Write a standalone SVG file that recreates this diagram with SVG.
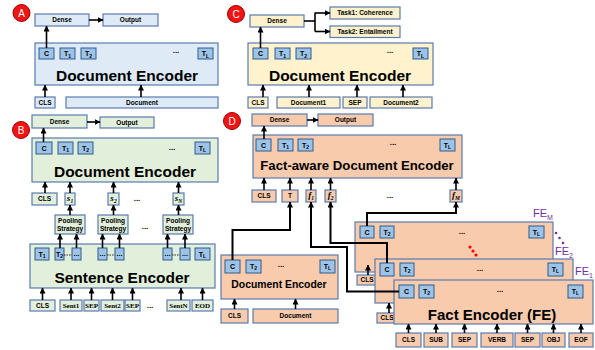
<svg xmlns="http://www.w3.org/2000/svg" width="595" height="350" viewBox="0 0 595 350">
<defs>
<marker id="ah" markerWidth="6" markerHeight="6" refX="5.5" refY="3" orient="auto" markerUnits="userSpaceOnUse"><path d="M0,0 L6,3 L0,6 z" fill="#000"/></marker>
<style>
.bx{stroke:#5a7bb0;stroke-width:1.2}
.blue{fill:#deebf7}.green{fill:#e2efda}.yel{fill:#fff2cc}.org{fill:#f8cbad}
.tok{fill:#9dc3e6;stroke:#2e5d8e;stroke-width:1}
text{font-family:"Liberation Sans",Arial,sans-serif;fill:#000}
.l{font-size:6.5px;font-weight:bold;text-anchor:middle}
.t{font-size:7px;font-weight:bold;text-anchor:middle}
.sub{font-size:5px}
.ser{font-family:"Liberation Serif","Times New Roman",serif;font-size:7px;font-weight:bold;text-anchor:middle}
.it{font-family:"Liberation Serif","Times New Roman",serif;font-style:italic;font-weight:bold;font-size:9px;text-anchor:middle}
.its{font-size:5.5px}
.big{font-weight:bold;text-anchor:middle}
.dots{font-size:8px;font-weight:bold;text-anchor:middle}
.circ{fill:#f01414;stroke:#a00000;stroke-width:1}
.cl{font-size:10px;fill:#fff;text-anchor:middle}
.fe{font-size:11px;fill:#7030a0}
.fes{font-size:7px;fill:#7030a0}
.c line,.c path{stroke:#000;fill:none;stroke-width:1.6}
.c .thick{stroke-width:2}
</style>
</defs>

<!-- Panel A -->
<g id="labelA"><circle class="circ" cx="21.5" cy="13" r="8.5"/><text class="cl" x="21.5" y="16.5">A</text></g>
<g id="A_dense"><rect class="bx blue" x="35" y="14" width="54" height="12"/><text class="l" x="62" y="22.3">Dense</text></g>
<g id="A_output"><rect class="bx blue" x="103" y="14" width="55" height="12"/><text class="l" x="130.5" y="22.3">Output</text></g>
<g id="A_encoder">
<rect class="bx blue" x="35" y="43" width="183" height="42"/>
<rect class="tok" x="39" y="48" width="15" height="11"/><text class="t" x="46.5" y="56">C</text>
<rect class="tok" x="60" y="48" width="15" height="11"/><text class="t" x="67.5" y="56">T<tspan class="sub" dy="1.5">1</tspan></text>
<rect class="tok" x="81" y="48" width="15" height="11"/><text class="t" x="88.5" y="56">T<tspan class="sub" dy="1.5">2</tspan></text>
<text class="dots" x="176" y="53">...</text>
<rect class="tok" x="198" y="48" width="15" height="11"/><text class="t" x="205.5" y="56">T<tspan class="sub" dy="1.5">L</tspan></text>
<text class="big" x="127" y="81" font-size="15.5">Document Encoder</text>
</g>
<g id="A_cls"><rect class="bx blue" x="35" y="97" width="20" height="11"/><text class="l" x="45" y="104.8">CLS</text></g>
<g id="A_doc"><rect class="bx blue" x="66" y="97" width="152" height="11"/><text class="l" x="142" y="104.8">Document</text></g>

<!-- Panel C -->
<g id="labelC"><circle class="circ" cx="236" cy="14" r="8.5"/><text class="cl" x="236" y="17.5">C</text></g>
<g id="C_dense"><rect class="bx yel" x="250" y="15" width="54" height="12"/><text class="l" x="277" y="23.3">Dense</text></g>
<g id="C_task1"><rect class="bx yel" x="330" y="7" width="70" height="12"/><text class="l" x="365" y="15.3">Task1: Coherence</text></g>
<g id="C_task2"><rect class="bx yel" x="330" y="26" width="70" height="11.5"/><text class="l" x="365" y="34">Task2: Entailment</text></g>
<g id="C_encoder">
<rect class="bx yel" x="248" y="43" width="185" height="42"/>
<rect class="tok" x="253" y="48" width="15" height="11"/><text class="t" x="260.5" y="56">C</text>
<rect class="tok" x="275" y="48" width="15" height="11"/><text class="t" x="282.5" y="56">T<tspan class="sub" dy="1.5">1</tspan></text>
<rect class="tok" x="296" y="48" width="15" height="11"/><text class="t" x="303.5" y="56">T<tspan class="sub" dy="1.5">2</tspan></text>
<text class="dots" x="390" y="53">...</text>
<rect class="tok" x="413" y="48" width="15" height="11"/><text class="t" x="420.5" y="56">T<tspan class="sub" dy="1.5">L</tspan></text>
<text class="big" x="340" y="81" font-size="15.5">Document Encoder</text>
</g>
<g id="C_cls"><rect class="bx yel" x="248" y="97" width="20" height="11"/><text class="l" x="258" y="104.8">CLS</text></g>
<g id="C_doc1"><rect class="bx yel" x="277" y="97" width="63" height="11"/><text class="l" x="308.5" y="104.8">Document1</text></g>
<g id="C_sep"><rect class="bx yel" x="343" y="97" width="24" height="11"/><text class="l" x="355" y="104.8">SEP</text></g>
<g id="C_doc2"><rect class="bx yel" x="370" y="97" width="62" height="11"/><text class="l" x="401" y="104.8">Document2</text></g>

<!-- Panel B -->
<g id="labelB"><circle class="circ" cx="21" cy="130" r="8.5"/><text class="cl" x="21" y="133.5">B</text></g>
<g id="B_dense"><rect class="bx green" x="32" y="115" width="55" height="13"/><text class="l" x="59.5" y="123.5">Dense</text></g>
<g id="B_output"><rect class="bx green" x="100" y="117" width="54" height="11"/><text class="l" x="127" y="125">Output</text></g>
<g id="B_encoder">
<rect class="bx green" x="32" y="138" width="186" height="44"/>
<rect class="tok" x="36" y="142" width="16" height="12"/><text class="t" x="44" y="150.5">C</text>
<rect class="tok" x="58" y="142" width="15" height="12"/><text class="t" x="65.5" y="150.5">T<tspan class="sub" dy="1.5">1</tspan></text>
<rect class="tok" x="78" y="142" width="15" height="12"/><text class="t" x="85.5" y="150.5">T<tspan class="sub" dy="1.5">2</tspan></text>
<text class="dots" x="172" y="150">...</text>
<rect class="tok" x="195" y="142" width="15" height="12"/><text class="t" x="202.5" y="150.5">T<tspan class="sub" dy="1.5">L</tspan></text>
<text class="big" x="125" y="177" font-size="15.5">Document Encoder</text>
</g>
<g id="B_cls"><rect class="bx green" x="32" y="193" width="25" height="12"/><text class="l" x="44.5" y="201.3">CLS</text></g>
<g id="B_s1"><rect class="bx green" x="65" y="193" width="10" height="12"/><text class="it" x="70" y="201">s<tspan class="its" dy="1.5">1</tspan></text></g>
<g id="B_s2"><rect class="bx green" x="108" y="193" width="11" height="12"/><text class="it" x="113.5" y="201">s<tspan class="its" dy="1.5">2</tspan></text></g>
<text class="dots" x="137" y="201">...</text>
<g id="B_sN"><rect class="bx green" x="173" y="193" width="11" height="12"/><text class="it" x="178.5" y="201">s<tspan class="its" dy="1.5">N</tspan></text></g>
<g id="B_pool1"><rect class="bx green" x="55" y="215" width="30" height="19"/><text class="l" x="70" y="223">Pooling</text><text class="l" x="70" y="231">Strategy</text></g>
<g id="B_pool2"><rect class="bx green" x="98" y="215" width="30" height="19"/><text class="l" x="113" y="223">Pooling</text><text class="l" x="113" y="231">Strategy</text></g>
<text class="dots" x="145" y="229">...</text>
<g id="B_poolN"><rect class="bx green" x="163" y="215" width="30" height="19"/><text class="l" x="178" y="223">Pooling</text><text class="l" x="178" y="231">Strategy</text></g>
<g id="B_sentenc">
<rect class="bx green" x="30" y="244" width="185" height="44"/>
<rect class="tok" x="35" y="248" width="14" height="12"/><text class="t" x="42" y="256.5">T<tspan class="sub" dy="1.5">1</tspan></text>
<rect class="tok" x="55" y="248" width="9" height="12"/><text class="t" x="59.5" y="256.5">T<tspan class="sub" dy="1.5">2</tspan></text>
<line x1="64" y1="255" x2="72" y2="255" stroke="#000" stroke-width="0.8" stroke-dasharray="1.5,1"/>
<rect class="tok" x="72" y="248" width="9" height="12"/><text class="t" x="76.5" y="256">...</text>
<rect class="tok" x="98" y="248" width="9" height="12"/><text class="t" x="102.5" y="256">...</text>
<line x1="107" y1="255" x2="115" y2="255" stroke="#000" stroke-width="0.8" stroke-dasharray="1.5,1"/>
<rect class="tok" x="115" y="248" width="9" height="12"/><text class="t" x="119.5" y="256">...</text>
<rect class="tok" x="163" y="248" width="9" height="12"/><text class="t" x="167.5" y="256">...</text>
<line x1="172" y1="255" x2="180" y2="255" stroke="#000" stroke-width="0.8" stroke-dasharray="1.5,1"/>
<rect class="tok" x="180" y="248" width="10" height="12"/><text class="t" x="185" y="256">...</text>
<rect class="tok" x="195" y="248" width="15" height="12"/><text class="t" x="202.5" y="256.5">T<tspan class="sub" dy="1.5">L</tspan></text>
<text class="big" x="122" y="283" font-size="15.5">Sentence Encoder</text>
</g>
<g id="B_in_cls"><rect class="bx green" x="30" y="300" width="25" height="11"/><text class="l" x="42.5" y="307.8">CLS</text></g>
<g id="B_in_sent1"><rect class="bx green" x="60" y="300" width="22" height="11"/><text class="ser" x="71" y="308">Sent1</text></g>
<g id="B_in_sep1"><rect class="bx green" x="84" y="300" width="15" height="11"/><text class="ser" x="91.5" y="308">SEP</text></g>
<g id="B_in_sent2"><rect class="bx green" x="101" y="300" width="23" height="11"/><text class="ser" x="112.5" y="308">Sent2</text></g>
<g id="B_in_sep2"><rect class="bx green" x="125" y="300" width="15" height="11"/><text class="ser" x="132.5" y="308">SEP</text></g>
<text class="dots" x="150" y="308">...</text>
<g id="B_in_sentN"><rect class="bx green" x="167" y="300" width="23" height="11"/><text class="ser" x="178.5" y="308">SentN</text></g>
<g id="B_in_eod"><rect class="bx green" x="192" y="300" width="21" height="11"/><text class="ser" x="202.5" y="308">EOD</text></g>

<!-- Panel D -->
<g id="labelD"><circle class="circ" cx="232" cy="121" r="8.5"/><text class="cl" x="232" y="124.5">D</text></g>
<g id="D_dense"><rect class="bx org" x="252" y="114" width="55" height="12"/><text class="l" x="279.5" y="122.3">Dense</text></g>
<g id="D_output"><rect class="bx org" x="318" y="114" width="55" height="12"/><text class="l" x="345.5" y="122.3">Output</text></g>
<g id="D_faenc">
<rect class="bx org" x="253" y="135" width="209" height="43"/>
<rect class="tok" x="256" y="139" width="15" height="12"/><text class="t" x="263.5" y="147.5">C</text>
<rect class="tok" x="278" y="139" width="15" height="12"/><text class="t" x="285.5" y="147.5">T<tspan class="sub" dy="1.5">1</tspan></text>
<rect class="tok" x="298" y="139" width="15" height="12"/><text class="t" x="305.5" y="147.5">T<tspan class="sub" dy="1.5">2</tspan></text>
<text class="dots" x="393" y="145">...</text>
<rect class="tok" x="440" y="139" width="15" height="12"/><text class="t" x="447.5" y="147.5">T<tspan class="sub" dy="1.5">L</tspan></text>
<text class="big" x="357" y="170" font-size="13.2">Fact-aware Document Encoder</text>
</g>
<g id="D_cls"><rect class="bx org" x="252" y="190" width="24" height="12"/><text class="l" x="264" y="198.3">CLS</text></g>
<g id="D_T"><rect class="bx org" x="282" y="190" width="16" height="12"/><text class="l" x="290" y="198.3">T</text></g>
<g id="D_f1"><rect class="bx org" x="306" y="190" width="10" height="12"/><text class="it" x="311" y="198">f<tspan class="its" dy="1.5">1</tspan></text></g>
<g id="D_f2"><rect class="bx org" x="325" y="190" width="11" height="12"/><text class="it" x="330.5" y="198">f<tspan class="its" dy="1.5">2</tspan></text></g>
<text class="dots" x="390" y="198">...</text>
<g id="D_fM"><rect class="bx org" x="450" y="190" width="12" height="12"/><text class="it" x="456" y="198">f<tspan class="its" dy="1.5">M</tspan></text></g>

<g id="D_docenc">
<rect class="bx org" x="221" y="255" width="117" height="44"/>
<rect class="tok" x="225" y="260" width="15" height="13"/><text class="t" x="232.5" y="268.8">C</text>
<rect class="tok" x="246" y="260" width="15" height="13"/><text class="t" x="253.5" y="268.8">T<tspan class="sub" dy="1.5">2</tspan></text>
<text class="dots" x="281" y="267">...</text>
<rect class="tok" x="320" y="260" width="15" height="13"/><text class="t" x="327.5" y="268.8">T<tspan class="sub" dy="1.5">L</tspan></text>
<text class="big" x="279" y="288" font-size="10.4">Document Encoder</text>
</g>
<g id="D_dcls"><rect class="bx org" x="221" y="309" width="27" height="14"/><text class="l" x="234.5" y="318.3">CLS</text></g>
<g id="D_ddoc"><rect class="bx org" x="253" y="309" width="85" height="14"/><text class="l" x="295.5" y="318.3">Document</text></g>

<g id="FE_M">
<rect class="bx org" x="355" y="222" width="198" height="50"/>
<rect class="tok" x="360" y="226" width="14" height="12"/><text class="t" x="367" y="234.5">C</text>
<rect class="tok" x="380" y="226" width="14" height="12"/><text class="t" x="387" y="234.5">T<tspan class="sub" dy="1.5">2</tspan></text>
<text class="dots" x="462" y="234">...</text>
<rect class="tok" x="529" y="226" width="15" height="12"/><text class="t" x="536.5" y="234.5">T<tspan class="sub" dy="1.5">L</tspan></text>
<text class="fe" x="533" y="217">FE<tspan class="fes" dy="3">M</tspan></text>
<circle cx="470" cy="247" r="1.6" fill="#ff0000"/><circle cx="473" cy="251" r="1.6" fill="#ff0000"/><circle cx="476" cy="255" r="1.6" fill="#ff0000"/>
<circle cx="556" cy="233" r="1.3" fill="#7030a0"/><circle cx="559.5" cy="238" r="1.3" fill="#7030a0"/><circle cx="563" cy="243" r="1.3" fill="#7030a0"/>
</g>
<g id="FE_M_cls"><rect class="bx org" x="357" y="275" width="25" height="10"/><text class="l" x="367" y="282.3">CLS</text></g>
<g id="FE_2">
<rect class="bx org" x="375" y="259" width="198" height="44"/>
<rect class="tok" x="380" y="263" width="14" height="13"/><text class="t" x="387" y="271.8">C</text>
<rect class="tok" x="400" y="263" width="14" height="13"/><text class="t" x="407" y="271.8">T<tspan class="sub" dy="1.5">2</tspan></text>
<text class="dots" x="480" y="271">...</text>
<rect class="tok" x="548" y="263" width="15" height="13"/><text class="t" x="555.5" y="271.8">T<tspan class="sub" dy="1.5">L</tspan></text>
<text class="fe" x="555" y="255">FE<tspan class="fes" dy="3">2</tspan></text>
</g>
<g id="FE_2_cls"><rect class="bx org" x="377" y="313" width="25" height="10"/><text class="l" x="387" y="320.3">CLS</text></g>
<g id="FE_1">
<rect class="bx org" x="394" y="280" width="199" height="44"/>
<rect class="tok" x="399" y="285" width="15" height="13"/><text class="t" x="406.5" y="293.8">C</text>
<rect class="tok" x="419" y="285" width="15" height="13"/><text class="t" x="426.5" y="293.8">T<tspan class="sub" dy="1.5">2</tspan></text>
<text class="dots" x="500" y="292">...</text>
<rect class="tok" x="568" y="285" width="15" height="13"/><text class="t" x="575.5" y="293.8">T<tspan class="sub" dy="1.5">L</tspan></text>
<text class="big" x="492" y="320" font-size="15">Fact Encoder (FE)</text>
<text class="fe" x="575" y="275">FE<tspan class="fes" dy="3">1</tspan></text>
</g>
<g id="FE_in_cls"><rect class="bx org" x="396" y="333" width="25" height="14"/><text class="l" x="408.5" y="342.3">CLS</text></g>
<g id="FE_in_sub"><rect class="bx org" x="424" y="333" width="24" height="14"/><text class="l" x="436" y="342.3">SUB</text></g>
<g id="FE_in_sep1"><rect class="bx org" x="452" y="333" width="25" height="14"/><text class="l" x="464.5" y="342.3">SEP</text></g>
<g id="FE_in_verb"><rect class="bx org" x="481" y="333" width="32" height="14"/><text class="l" x="497" y="342.3">VERB</text></g>
<g id="FE_in_sep2"><rect class="bx org" x="515" y="333" width="25" height="14"/><text class="l" x="527.5" y="342.3">SEP</text></g>
<g id="FE_in_obj"><rect class="bx org" x="542" y="333" width="23" height="14"/><text class="l" x="553.5" y="342.3">OBJ</text></g>
<g id="FE_in_eof"><rect class="bx org" x="569" y="333" width="24" height="14"/><text class="l" x="581" y="342.3">EOF</text></g>

<!-- Connectors -->
<g id="connectors" class="c">
<line x1="89" y1="20" x2="103" y2="20" marker-end="url(#ah)"/>
<line x1="46.5" y1="48" x2="46.5" y2="26" marker-end="url(#ah)"/>
<line x1="45" y1="97" x2="45" y2="85" marker-end="url(#ah)"/>
<line x1="141" y1="97" x2="141" y2="85" marker-end="url(#ah)"/>
<line x1="304" y1="21" x2="315" y2="21"/>
<line x1="315" y1="12.5" x2="315" y2="31.5"/>
<line x1="315" y1="13" x2="330" y2="13" marker-end="url(#ah)"/>
<line x1="315" y1="31.5" x2="330" y2="31.5" marker-end="url(#ah)"/>
<line x1="260.5" y1="48" x2="260.5" y2="27" marker-end="url(#ah)"/>
<line x1="263" y1="97" x2="263" y2="85" marker-end="url(#ah)"/>
<line x1="309" y1="97" x2="309" y2="85" marker-end="url(#ah)"/>
<line x1="357" y1="97" x2="357" y2="85" marker-end="url(#ah)"/>
<line x1="403" y1="97" x2="403" y2="85" marker-end="url(#ah)"/>
<line x1="87" y1="122" x2="100" y2="122" marker-end="url(#ah)"/>
<line x1="43.5" y1="142" x2="43.5" y2="128" marker-end="url(#ah)"/>
<line x1="45" y1="193" x2="45" y2="182" marker-end="url(#ah)"/>
<line x1="70" y1="193" x2="70" y2="182" marker-end="url(#ah)"/>
<line x1="113.5" y1="193" x2="113.5" y2="182" marker-end="url(#ah)"/>
<line x1="178.5" y1="193" x2="178.5" y2="182" marker-end="url(#ah)"/>
<line x1="70" y1="215" x2="70" y2="205" marker-end="url(#ah)"/>
<line x1="113.5" y1="215" x2="113.5" y2="205" marker-end="url(#ah)"/>
<line x1="178.5" y1="215" x2="178.5" y2="205" marker-end="url(#ah)"/>
<line x1="60" y1="248" x2="60" y2="234" marker-end="url(#ah)"/>
<line x1="76.5" y1="248" x2="76.5" y2="234" marker-end="url(#ah)"/>
<line x1="102.5" y1="248" x2="102.5" y2="234" marker-end="url(#ah)"/>
<line x1="119.5" y1="248" x2="119.5" y2="234" marker-end="url(#ah)"/>
<line x1="167.5" y1="248" x2="167.5" y2="234" marker-end="url(#ah)"/>
<line x1="185" y1="248" x2="185" y2="234" marker-end="url(#ah)"/>
<line x1="42.5" y1="300" x2="42.5" y2="288" marker-end="url(#ah)"/>
<line x1="71" y1="300" x2="71" y2="288" marker-end="url(#ah)"/>
<line x1="91.5" y1="300" x2="91.5" y2="288" marker-end="url(#ah)"/>
<line x1="112.5" y1="300" x2="112.5" y2="288" marker-end="url(#ah)"/>
<line x1="132.5" y1="300" x2="132.5" y2="288" marker-end="url(#ah)"/>
<line x1="181" y1="300" x2="181" y2="288" marker-end="url(#ah)"/>
<line x1="202.5" y1="300" x2="202.5" y2="288" marker-end="url(#ah)"/>
<line x1="307" y1="120" x2="318" y2="120" marker-end="url(#ah)"/>
<line x1="264" y1="139" x2="264" y2="126" marker-end="url(#ah)"/>
<line x1="264" y1="190" x2="264" y2="178" marker-end="url(#ah)"/>
<line x1="290" y1="190" x2="290" y2="178" marker-end="url(#ah)"/>
<line x1="311" y1="190" x2="311" y2="178" marker-end="url(#ah)"/>
<line x1="330.5" y1="190" x2="330.5" y2="178" marker-end="url(#ah)"/>
<line x1="456" y1="190" x2="456" y2="178" marker-end="url(#ah)"/>
<line x1="234.5" y1="309" x2="234.5" y2="299" marker-end="url(#ah)"/>
<line x1="295.5" y1="309" x2="295.5" y2="299" marker-end="url(#ah)"/>
<path class="thick" d="M232.5,260 V230 H290 V202" marker-end="url(#ah)"/>
<path class="thick" d="M399,291.5 H347 V247 H311 V202" marker-end="url(#ah)"/>
<path class="thick" d="M387,263 V243 H330.5 V202" marker-end="url(#ah)"/>
<path class="thick" d="M367,226 V213 H456 V202" marker-end="url(#ah)"/>
<line x1="368" y1="275" x2="368" y2="265" marker-end="url(#ah)"/>
<line x1="389" y1="313" x2="389" y2="303" marker-end="url(#ah)"/>
<line x1="408.5" y1="333" x2="408.5" y2="324" marker-end="url(#ah)"/>
<line x1="436" y1="333" x2="436" y2="324" marker-end="url(#ah)"/>
<line x1="464.5" y1="333" x2="464.5" y2="324" marker-end="url(#ah)"/>
<line x1="497" y1="333" x2="497" y2="324" marker-end="url(#ah)"/>
<line x1="527.5" y1="333" x2="527.5" y2="324" marker-end="url(#ah)"/>
<line x1="553.5" y1="333" x2="553.5" y2="324" marker-end="url(#ah)"/>
<line x1="581" y1="333" x2="581" y2="324" marker-end="url(#ah)"/>
</g>
</svg>
